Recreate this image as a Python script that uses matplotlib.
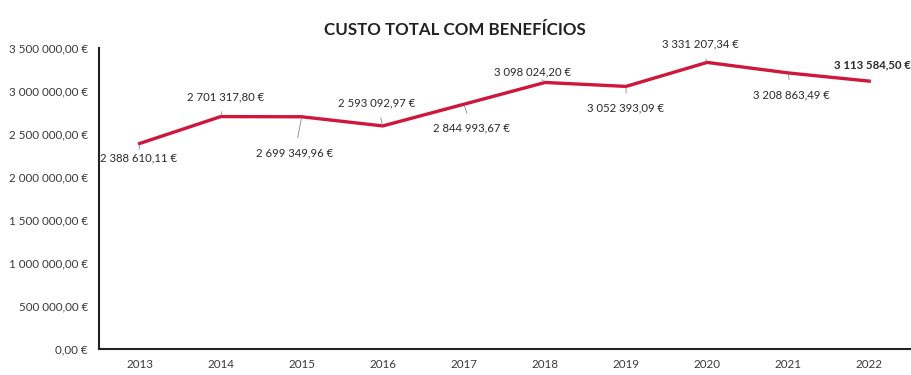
import matplotlib
matplotlib.use('Agg')
import matplotlib.pyplot as plt
from matplotlib.ticker import FuncFormatter

# -------------------------------
# Data
# -------------------------------
years = ['2013', '2014', '2015', '2016', '2017', '2018', '2019', '2020', '2021', '2022']
custo_total = [2388610.11, 2701317.80, 2699349.96, 2593092.97, 2844993.67,
               3098024.20, 3052393.09, 3331207.34, 3208863.49, 3113584.50]
y_ticks = [0, 500000, 1000000, 1500000, 2000000, 2500000, 3000000, 3500000]

# label offsets (pixels) for the data labels
label_offsets = [(-1, -14), (5, 20), (-7, -36), (-6, 23), (8, -24),
                 (-12, 11), (0, -22), (-7, 18), (3, -22), (3, 16)]


def eur(v, decimals=2):
    s = f"{v:,.{decimals}f}"
    s = s.replace(',', ' ').replace('.', ',')
    return s + ' €'


plt.rcParams['font.family'] = ['Lato', 'DejaVu Sans']

fig = plt.figure(figsize=(9.12, 3.75), dpi=100)
ax = fig.add_axes([0.1086, 0.0693, 0.889, 0.803])

x = list(range(len(years)))
ax.plot(x, custo_total, color='#d0163a', linewidth=2.4, solid_joinstyle='round', zorder=3)

for i, (v, (dx, dy)) in enumerate(zip(custo_total, label_offsets)):
    bold = (i == len(years) - 1)
    ax.annotate(eur(v), xy=(i, v), xytext=(dx, dy), textcoords='offset pixels',
                ha='center', va='center', fontsize=8.2, color='#2a2a2a',
                fontweight='bold' if bold else 'normal',
                arrowprops=dict(arrowstyle='-', color='#8a8a8a', lw=0.6,
                                shrinkA=5, shrinkB=1),
                zorder=4)

ax.set_xlim(-0.5, len(years) - 0.5)
ax.set_ylim(0, 3500000)
ax.set_xticks(x)
ax.set_xticklabels(years)
ax.set_yticks(y_ticks)
ax.yaxis.set_major_formatter(FuncFormatter(lambda v, p: eur(v)))
ax.tick_params(axis='y', length=0, labelsize=8.4, colors='#3a3a3a', pad=8)
ax.tick_params(axis='x', length=0, labelsize=8.4, colors='#3a3a3a', pad=7)

for side in ['top', 'right']:
    ax.spines[side].set_visible(False)
for side in ['left', 'bottom']:
    ax.spines[side].set_linewidth(1.5)
    ax.spines[side].set_color('#222222')

fig.text(0.499, 0.92, 'CUSTO TOTAL COM BENEFÍCIOS', ha='center', va='center',
         fontsize=12.2, fontweight='bold', color='#222222')

fig.savefig('out.png', dpi=100)
